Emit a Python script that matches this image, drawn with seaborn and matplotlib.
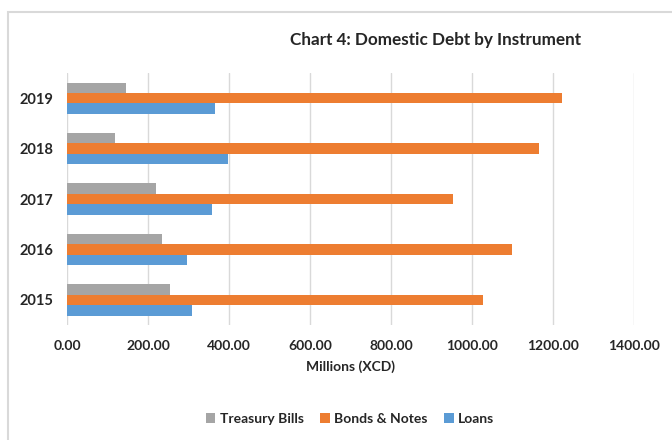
import pandas as pd
import matplotlib.pyplot as plt
import matplotlib.patches as patches
import seaborn as sns

years = ['2019', '2018', '2017', '2016', '2015']
treasury_bills = [144, 119, 218, 233, 254]
bonds_notes = [1222, 1164, 952, 1097, 1026]
loans = [365, 396, 358, 296, 307]
instruments = ['Treasury Bills', 'Bonds & Notes', 'Loans']
colors = ['#A5A5A5', '#ED7D31', '#5B9BD5']
x_ticks = [0, 200, 400, 600, 800, 1000, 1200, 1400]

df = pd.DataFrame({'year': years * 3,
                   'instrument': [i for i in instruments for _ in years],
                   'value': treasury_bills + bonds_notes + loans})

sns.set_theme(style='white')
plt.rcParams['font.family'] = ['Lato', 'DejaVu Sans']

fig = plt.figure(figsize=(6.72, 4.40), dpi=100)
ax = fig.add_axes([0.1, 0.261, 0.844, 0.573])

sns.barplot(data=df, x='value', y='year', hue='instrument', order=years,
            hue_order=instruments, palette=colors, width=0.62, gap=0,
            orient='h', ax=ax, saturation=1, edgecolor='none')

ax.set_xlim(0, 1400)
ax.set_ylim(4.5, -0.5)
ax.set_xticks(x_ticks)
ax.set_xticklabels([f'{t:.2f}' for t in x_ticks], fontsize=10, fontweight='bold')
ax.set_yticks(range(len(years)))
ax.set_yticklabels(years, fontsize=10.5, fontweight='bold')
ax.tick_params(axis='x', length=0, pad=11)
ax.tick_params(axis='y', length=0, pad=10)
ax.grid(axis='x', color='#D9D9D9', linewidth=1)
ax.set_axisbelow(True)
for s in ax.spines.values():
    s.set_visible(False)
ax.set_ylabel('')
ax.set_xlabel('Millions (XCD)', fontsize=10, fontweight='bold', labelpad=6)

ax.legend(loc='center', bbox_to_anchor=(350 / 672, 1 - 419 / 440),
          bbox_transform=fig.transFigure, ncol=3, frameon=False,
          handlelength=0.7, handleheight=0.7,
          handletextpad=0.3, columnspacing=1.2, prop={'weight': 'bold', 'size': 10})

fig.text(435 / 672, 1 - 40 / 440, 'Chart 4: Domestic Debt by Instrument',
         ha='center', va='center', fontsize=12.3, fontweight='bold')

fig.patches.append(patches.Rectangle((8 / 672, -0.1), 1.2, 1.1 - 12 / 440,
                                     transform=fig.transFigure, fill=False,
                                     edgecolor='#D9D9D9', linewidth=1.5))

fig.savefig('out.png', dpi=100)
